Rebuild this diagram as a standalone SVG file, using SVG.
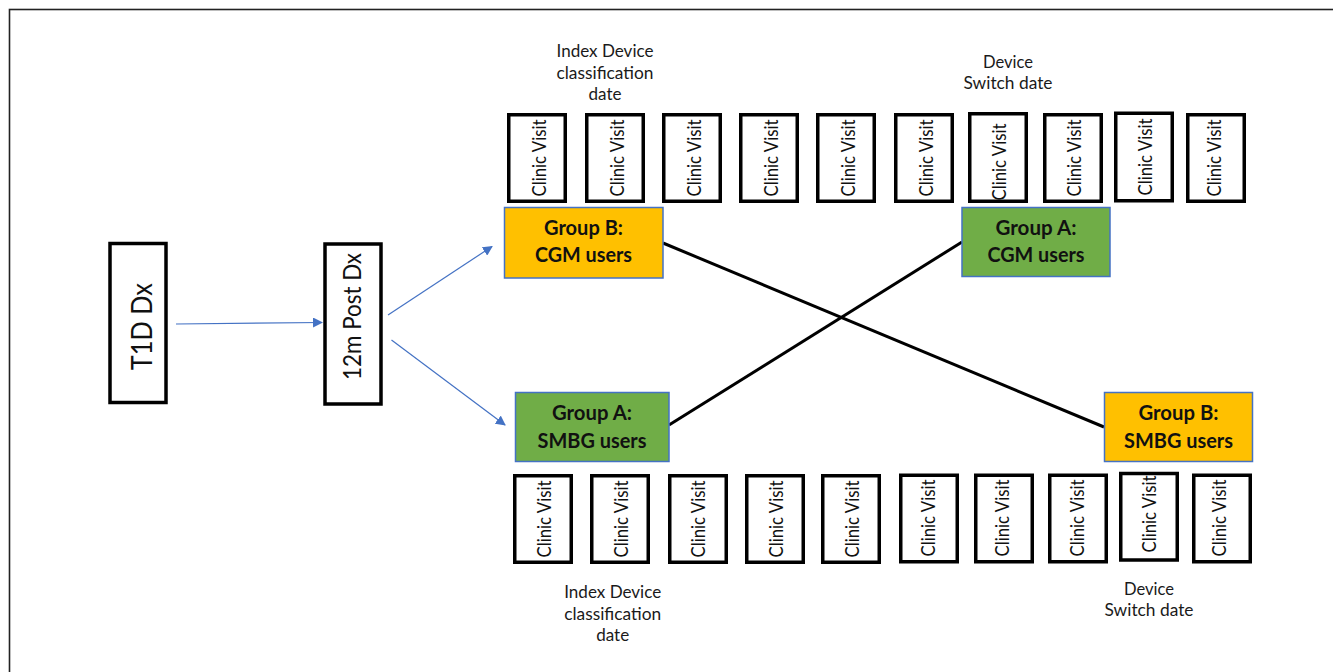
<svg xmlns="http://www.w3.org/2000/svg" width="1333" height="672" viewBox="0 0 1333 672">
<style>
  .frame{fill:none;stroke:#222;stroke-width:1.6}
  .visit{fill:#fff;stroke:#000;stroke-width:3.5}
  .vt{font-family:Lato,"Liberation Sans",sans-serif;font-size:19px;fill:#111;text-anchor:middle}
  .lbl{font-family:Lato,"Liberation Sans",sans-serif;font-size:18px;fill:#1a1a1a;text-anchor:middle}
  .big{fill:#fff;stroke:#000;stroke-width:3.5}
  .bt{font-family:Lato,"Liberation Sans",sans-serif;fill:#111;text-anchor:middle}
  .orange{fill:#FFC000;stroke:#4472C4;stroke-width:1.5}
  .green{fill:#70AD47;stroke:#4472C4;stroke-width:1.5}
  .gt{font-family:Lato,"Liberation Sans",sans-serif;font-size:20px;font-weight:bold;fill:#111;text-anchor:middle}
  .blue{fill:none;stroke:#4472C4;stroke-width:1.2}
  .blk{fill:none;stroke:#000;stroke-width:3}
</style>
<defs>
  <marker id="ah" viewBox="0 0 10 10" refX="9" refY="5" markerWidth="10" markerHeight="10" markerUnits="userSpaceOnUse" orient="auto">
    <path d="M0,0 L10,5 L0,10 z" fill="#4472C4"/>
  </marker>
</defs>
<rect class="frame" x="9.5" y="9.5" width="1400" height="700"/>

<g id="connectors">
  <line class="blue" x1="176" y1="324" x2="322" y2="322.5" marker-end="url(#ah)"/>
  <line class="blue" x1="388" y1="315" x2="492" y2="246.5" marker-end="url(#ah)"/>
  <line class="blue" x1="391.5" y1="340" x2="505" y2="425" marker-end="url(#ah)"/>
  <line class="blk" x1="663" y1="243" x2="1104" y2="427"/>
  <line class="blk" x1="669" y1="425" x2="962" y2="242"/>
</g>

<g id="t1d">
  <rect class="big" x="110" y="243.5" width="56" height="159"/>
  <text class="bt" font-size="28" transform="translate(152,326.7) rotate(-90)" textLength="87" lengthAdjust="spacingAndGlyphs">T1D Dx</text>
</g>
<g id="post12m">
  <rect class="big" x="325" y="244" width="56" height="160"/>
  <text class="bt" font-size="25" transform="translate(360.5,316.5) rotate(-90)" textLength="127" lengthAdjust="spacingAndGlyphs">12m Post Dx</text>
</g>

<g id="groupB-cgm">
  <rect class="orange" x="504.5" y="207.5" width="158.5" height="70.5"/>
  <text class="gt" x="583.5" y="235" textLength="79" lengthAdjust="spacingAndGlyphs">Group B:</text>
  <text class="gt" x="583.5" y="262" textLength="97" lengthAdjust="spacingAndGlyphs">CGM users</text>
</g>
<g id="groupA-cgm">
  <rect class="green" x="962" y="207.5" width="148" height="69"/>
  <text class="gt" x="1036" y="235" textLength="81" lengthAdjust="spacingAndGlyphs">Group A:</text>
  <text class="gt" x="1036" y="262" textLength="97" lengthAdjust="spacingAndGlyphs">CGM users</text>
</g>
<g id="groupA-smbg">
  <rect class="green" x="515.5" y="392.5" width="153.5" height="69"/>
  <text class="gt" x="592" y="420" textLength="80" lengthAdjust="spacingAndGlyphs">Group A:</text>
  <text class="gt" x="592" y="447.5" textLength="109" lengthAdjust="spacingAndGlyphs">SMBG users</text>
</g>
<g id="groupB-smbg">
  <rect class="orange" x="1104.5" y="392.5" width="148" height="69"/>
  <text class="gt" x="1178.5" y="420" textLength="80" lengthAdjust="spacingAndGlyphs">Group B:</text>
  <text class="gt" x="1178.5" y="447.5" textLength="109" lengthAdjust="spacingAndGlyphs">SMBG users</text>
</g>

<g id="label-top-index">
  <text class="lbl" x="605" y="57" textLength="97" lengthAdjust="spacingAndGlyphs">Index Device</text>
  <text class="lbl" x="605" y="78.5" textLength="97" lengthAdjust="spacingAndGlyphs">classification</text>
  <text class="lbl" x="605" y="100" textLength="33" lengthAdjust="spacingAndGlyphs">date</text>
</g>
<g id="label-top-switch">
  <text class="lbl" x="1008" y="68" textLength="50" lengthAdjust="spacingAndGlyphs">Device</text>
  <text class="lbl" x="1008" y="89" textLength="89" lengthAdjust="spacingAndGlyphs">Switch date</text>
</g>
<g id="label-bottom-index">
  <text class="lbl" x="612.7" y="598" textLength="97" lengthAdjust="spacingAndGlyphs">Index Device</text>
  <text class="lbl" x="612.7" y="619.5" textLength="97" lengthAdjust="spacingAndGlyphs">classification</text>
  <text class="lbl" x="612.7" y="641" textLength="33" lengthAdjust="spacingAndGlyphs">date</text>
</g>
<g id="label-bottom-switch">
  <text class="lbl" x="1149" y="595" textLength="50" lengthAdjust="spacingAndGlyphs">Device</text>
  <text class="lbl" x="1149" y="616" textLength="89" lengthAdjust="spacingAndGlyphs">Switch date</text>
</g>

<g id="visits-top">
  <g id="vt1"><rect class="visit" x="508.75" y="114.75" width="56.5" height="86.5"/><text class="vt" transform="translate(546,158) rotate(-90)" textLength="77" lengthAdjust="spacingAndGlyphs">Clinic Visit</text></g>
  <g id="vt2"><rect class="visit" x="586.75" y="114.75" width="56.5" height="86.5"/><text class="vt" transform="translate(624,158) rotate(-90)" textLength="77" lengthAdjust="spacingAndGlyphs">Clinic Visit</text></g>
  <g id="vt3"><rect class="visit" x="663.75" y="114.75" width="56.5" height="86.5"/><text class="vt" transform="translate(701,158) rotate(-90)" textLength="77" lengthAdjust="spacingAndGlyphs">Clinic Visit</text></g>
  <g id="vt4"><rect class="visit" x="740.75" y="114.75" width="56.5" height="86.5"/><text class="vt" transform="translate(778,158) rotate(-90)" textLength="77" lengthAdjust="spacingAndGlyphs">Clinic Visit</text></g>
  <g id="vt5"><rect class="visit" x="817.75" y="114.75" width="56.5" height="86.5"/><text class="vt" transform="translate(855,158) rotate(-90)" textLength="77" lengthAdjust="spacingAndGlyphs">Clinic Visit</text></g>
  <g id="vt6"><rect class="visit" x="895.75" y="114.75" width="56.5" height="86.5"/><text class="vt" transform="translate(933,158) rotate(-90)" textLength="77" lengthAdjust="spacingAndGlyphs">Clinic Visit</text></g>
  <g id="vt7"><rect class="visit" x="969.75" y="113.75" width="56.5" height="87.5"/><text class="vt" transform="translate(1006,162) rotate(-90)" textLength="77" lengthAdjust="spacingAndGlyphs">Clinic Visit</text></g>
  <g id="vt8"><rect class="visit" x="1044.75" y="114.75" width="56.5" height="86.5"/><text class="vt" transform="translate(1081,158) rotate(-90)" textLength="77" lengthAdjust="spacingAndGlyphs">Clinic Visit</text></g>
  <g id="vt9"><rect class="visit" x="1115.75" y="113.25" width="56.5" height="87.5"/><text class="vt" transform="translate(1152,157) rotate(-90)" textLength="77" lengthAdjust="spacingAndGlyphs">Clinic Visit</text></g>
  <g id="vt10"><rect class="visit" x="1187.75" y="114.75" width="56.5" height="86.5"/><text class="vt" transform="translate(1221,158) rotate(-90)" textLength="77" lengthAdjust="spacingAndGlyphs">Clinic Visit</text></g>
</g>

<g id="visits-bottom">
  <g id="vb1"><rect class="visit" x="514.75" y="475.75" width="56.5" height="86.5"/><text class="vt" transform="translate(551,519) rotate(-90)" textLength="77" lengthAdjust="spacingAndGlyphs">Clinic Visit</text></g>
  <g id="vb2"><rect class="visit" x="591.75" y="475.75" width="56.5" height="86.5"/><text class="vt" transform="translate(628,519) rotate(-90)" textLength="77" lengthAdjust="spacingAndGlyphs">Clinic Visit</text></g>
  <g id="vb3"><rect class="visit" x="669.75" y="475.75" width="56.5" height="86.5"/><text class="vt" transform="translate(705,519) rotate(-90)" textLength="77" lengthAdjust="spacingAndGlyphs">Clinic Visit</text></g>
  <g id="vb4"><rect class="visit" x="746.75" y="475.75" width="56.5" height="86.5"/><text class="vt" transform="translate(783,519) rotate(-90)" textLength="77" lengthAdjust="spacingAndGlyphs">Clinic Visit</text></g>
  <g id="vb5"><rect class="visit" x="822.75" y="475.75" width="56.5" height="86.5"/><text class="vt" transform="translate(859,519) rotate(-90)" textLength="77" lengthAdjust="spacingAndGlyphs">Clinic Visit</text></g>
  <g id="vb6"><rect class="visit" x="900.75" y="475.25" width="56.5" height="86.5"/><text class="vt" transform="translate(935,518) rotate(-90)" textLength="77" lengthAdjust="spacingAndGlyphs">Clinic Visit</text></g>
  <g id="vb7"><rect class="visit" x="975.75" y="475.25" width="56.5" height="86.5"/><text class="vt" transform="translate(1009,518) rotate(-90)" textLength="77" lengthAdjust="spacingAndGlyphs">Clinic Visit</text></g>
  <g id="vb8"><rect class="visit" x="1049.75" y="475.25" width="56.5" height="86.5"/><text class="vt" transform="translate(1084,518) rotate(-90)" textLength="77" lengthAdjust="spacingAndGlyphs">Clinic Visit</text></g>
  <g id="vb9"><rect class="visit" x="1120.75" y="473.5" width="56.5" height="86.5"/><text class="vt" transform="translate(1156,514) rotate(-90)" textLength="77" lengthAdjust="spacingAndGlyphs">Clinic Visit</text></g>
  <g id="vb10"><rect class="visit" x="1193.75" y="475.25" width="56.5" height="86.5"/><text class="vt" transform="translate(1226,518) rotate(-90)" textLength="77" lengthAdjust="spacingAndGlyphs">Clinic Visit</text></g>
</g>
</svg>
